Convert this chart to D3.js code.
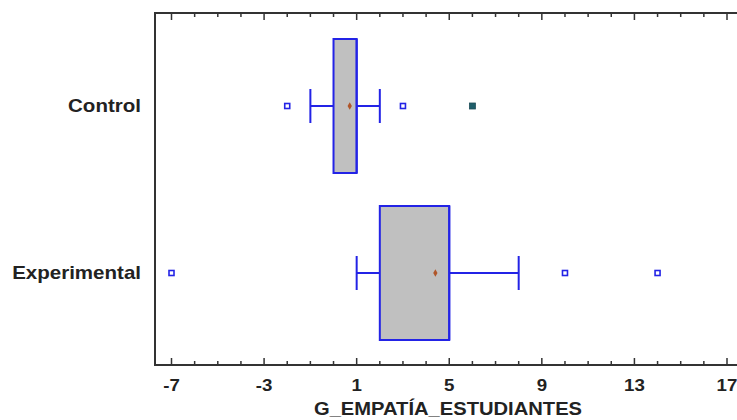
<!DOCTYPE html>
<html>
<head>
<meta charset="utf-8">
<script src="https://cdn.jsdelivr.net/npm/d3@7"></script>
<style>
  html, body { margin: 0; padding: 0; background: #fff; }
  svg { display: block; }
  text { font-family: "Liberation Sans", Arial, sans-serif; font-weight: bold; fill: #222; }
</style>
</head>
<body>
<svg id="chart" width="737" height="420"></svg>
<script>
// ---- data ----
const groups = ["Control", "Experimental"];
const whiskerLow = [-1, 1];
const q1 = [0, 2];
const median = [1, 5];
const q3 = [1, 5];
const whiskerHigh = [2, 8];
const means = [0.7, 4.4];
const outliers = [[-2, 3], [-7, 10, 14]];
const farOutliers = [[6], []];
const tickLabels = [-7, -3, 1, 5, 9, 13, 17];
const axisTitle = "G_EMPATÍA_ESTUDIANTES";

// ---- layout ----
const svg = d3.select("#chart");
const plotLeft = 155, plotTop = 13, plotBottom = 365, plotRight = 745;

const x = d3.scaleLinear().domain([-7, 17]).range([171.5, 727]);
const y = d3.scalePoint().domain(groups).range([106, 273]);
const boxHalf = 67, capHalf = 17;

const blue = "#2323e6";

// frame
svg.append("rect")
  .attr("x", plotLeft).attr("y", plotTop)
  .attr("width", plotRight - plotLeft).attr("height", plotBottom - plotTop)
  .attr("fill", "none").attr("stroke", "#333").attr("stroke-width", 2);

// ticks (bottom and top, inward)
const minorTicks = d3.range(-7, 18, 1);
const gTicks = svg.append("g").attr("stroke", "#333").attr("stroke-width", 1.5);
minorTicks.forEach(v => {
  const major = tickLabels.includes(v);
  const len = major ? 7 : 4;
  gTicks.append("line").attr("x1", x(v)).attr("x2", x(v))
    .attr("y1", plotBottom).attr("y2", plotBottom - len);
  gTicks.append("line").attr("x1", x(v)).attr("x2", x(v))
    .attr("y1", plotTop).attr("y2", plotTop + len);
});

// helper: horizontally stretched text anchored at (px, py)
function stretched(sel, px, py, sx) {
  return sel.attr("transform", `translate(${px},${py}) scale(${sx},1)`);
}

// tick labels
svg.append("g").selectAll("text").data(tickLabels).join("text")
  .each(function(d) { stretched(d3.select(this), x(d), 391, 1.1); })
  .attr("text-anchor", "middle")
  .attr("font-size", 17)
  .text(d => d);

// axis title
stretched(svg.append("text"), 448, 415, 1.12)
  .attr("text-anchor", "middle")
  .attr("font-size", 18)
  .text(axisTitle);

// category labels
svg.append("g").selectAll("text").data(groups).join("text")
  .each(function(d) { stretched(d3.select(this), 141, y(d) + 6, 1.14); })
  .attr("text-anchor", "end")
  .attr("font-size", 18)
  .text(d => d);

// boxes
groups.forEach((g, i) => {
  const cy = y(g);
  const gg = svg.append("g");
  gg.append("line").attr("x1", x(whiskerLow[i])).attr("x2", x(q1[i]))
    .attr("y1", cy).attr("y2", cy).attr("stroke", blue).attr("stroke-width", 2);
  gg.append("line").attr("x1", x(q3[i])).attr("x2", x(whiskerHigh[i]))
    .attr("y1", cy).attr("y2", cy).attr("stroke", blue).attr("stroke-width", 2);
  [whiskerLow[i], whiskerHigh[i]].forEach(v => {
    gg.append("line").attr("x1", x(v)).attr("x2", x(v))
      .attr("y1", cy - capHalf).attr("y2", cy + capHalf)
      .attr("stroke", blue).attr("stroke-width", 2);
  });
  gg.append("rect")
    .attr("x", x(q1[i])).attr("y", cy - boxHalf)
    .attr("width", x(q3[i]) - x(q1[i])).attr("height", 2 * boxHalf)
    .attr("fill", "#c0c0c0").attr("stroke", blue).attr("stroke-width", 2);
  gg.append("line").attr("x1", x(median[i])).attr("x2", x(median[i]))
    .attr("y1", cy - boxHalf).attr("y2", cy + boxHalf)
    .attr("stroke", blue).attr("stroke-width", 2);
  gg.append("path")
    .attr("d", d3.symbol(d3.symbolDiamond, 16)())
    .attr("transform", `translate(${x(means[i])},${cy})`)
    .attr("fill", "#b0562a");
  outliers[i].forEach(v => {
    gg.append("rect").attr("x", x(v) - 2.5).attr("y", cy - 2.5)
      .attr("width", 5).attr("height", 5)
      .attr("fill", "#fff").attr("stroke", blue).attr("stroke-width", 1.6);
  });
  farOutliers[i].forEach(v => {
    gg.append("rect").attr("x", x(v) - 3).attr("y", cy - 3)
      .attr("width", 6).attr("height", 6)
      .attr("fill", "#1f5f6a").attr("stroke", "#1f4f5a").attr("stroke-width", 0.8);
  });
});
</script>
</body>
</html>
